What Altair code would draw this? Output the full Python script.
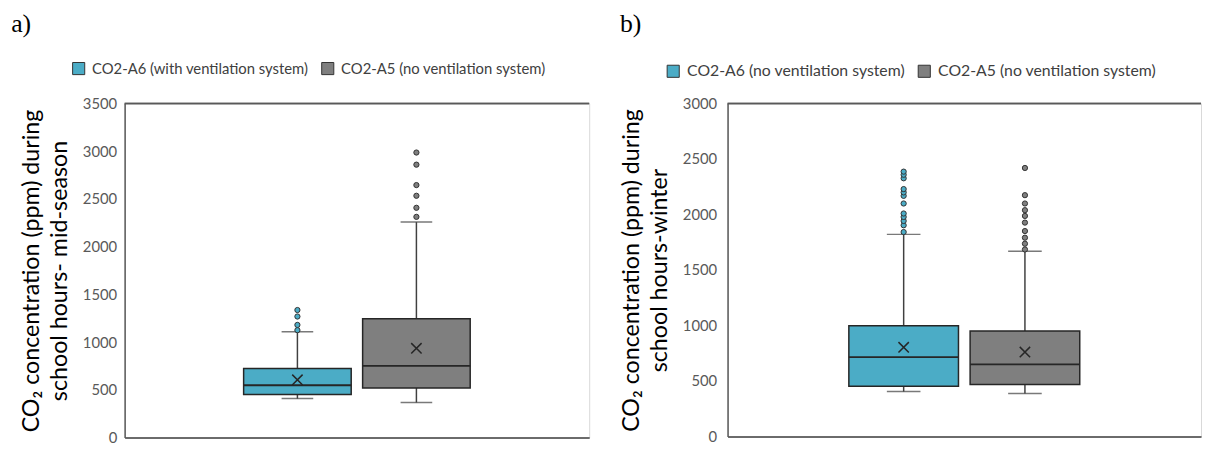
import altair as alt
import pandas as pd

# ---------------- data ----------------
a_series = ["CO2-A6 (with ventilation system)", "CO2-A5 (no ventilation system)"]
a_q1 = [452, 520]
a_median = [548, 752]
a_q3 = [724, 1244]
a_mean = [605, 935]
a_low = [408, 367]
a_high = [1109, 2257]
a_out_A6 = [1125, 1180, 1268, 1336]
a_out_A5 = [2312, 2407, 2533, 2645, 2859, 2986]

b_series = ["CO2-A6 (no ventilation system)", "CO2-A5 (no ventilation system) "]
b_q1 = [453, 468]
b_median = [716, 650]
b_q3 = [999, 951]
b_mean = [804, 761]
b_low = [405, 387]
b_high = [1821, 1670]
b_out_A6 = [1842, 1903, 1942, 1978, 2009, 2099, 2168, 2199, 2229, 2326, 2358, 2386]
b_out_A5 = [1685, 1737, 1791, 1851, 1927, 1987, 2039, 2099, 2174, 2419]

colors = ["#4BACC6", "#7F7F7F"]
FONT = "Lato"
X_PATH = "M-1,-1L1,1M-1,1L1,-1"


def panel(series, q1, med, q3, mean, low, high, outs, ymax, label, ytitle,
          width, height, legx, legy, toff, tdx, cap, legfs, lpad):
    box = pd.DataFrame({"series": series, "q1": q1, "median": med, "q3": q3,
                        "mean": mean, "low": low, "high": high})
    orows = []
    for s, vals in zip(series, outs):
        for v in vals:
            orows.append({"series": s, "value": v})
    out = pd.DataFrame(orows)

    xenc = alt.X("series:N", sort=series,
                 scale=alt.Scale(domain=series, paddingInner=0.096, paddingOuter=1.0),
                 axis=alt.Axis(labels=False, ticks=False, title=None,
                               domainColor="#404040", domainWidth=1.5))
    yaxis = alt.Axis(values=list(range(0, ymax + 1, 500)), title=ytitle, format="d",
                     ticks=False, grid=False, labelPadding=lpad,
                     labelFont=FONT, labelFontSize=15, labelColor="#595959",
                     domainColor="#595959", domainWidth=1.5,
                     titleFont=FONT, titleFontSize=23.5, titleFontWeight="normal",
                     titleColor="#000000", titleLineHeight=28, titlePadding=11)
    yscale = alt.Scale(domain=[0, ymax], nice=False)
    cenc = alt.Color("series:N", sort=series,
                     scale=alt.Scale(domain=series, range=colors),
                     legend=alt.Legend(title=None, orient="none", direction="horizontal",
                                       legendX=legx, legendY=legy,
                                       symbolType="square", symbolSize=150,
                                       symbolStrokeColor="#333333", symbolStrokeWidth=1,
                                       labelFont=FONT, labelFontSize=legfs,
                                       labelColor="#404040", labelOffset=6,
                                       columnPadding=10, labelLimit=400))

    base = alt.Chart(box)
    top_line = base.mark_rule(color="#595959", strokeWidth=1.5).encode(
        y=alt.datum(ymax, scale=yscale, axis=yaxis))
    wh_hi = base.mark_rule(color="#404040", strokeWidth=1.5).encode(
        x=xenc, y=alt.Y("q3:Q", scale=yscale, axis=yaxis), y2="high:Q")
    wh_lo = base.mark_rule(color="#404040", strokeWidth=1.5).encode(
        x=xenc, y=alt.Y("low:Q", scale=yscale, axis=yaxis), y2="q1:Q")
    caps_hi = base.mark_tick(color="#404040", thickness=1.5, size=cap).encode(
        x=xenc, y=alt.Y("high:Q", scale=yscale, axis=yaxis))
    caps_lo = base.mark_tick(color="#404040", thickness=1.5, size=cap).encode(
        x=xenc, y=alt.Y("low:Q", scale=yscale, axis=yaxis))
    boxes = base.mark_bar(stroke="#262626", strokeWidth=1.5, opacity=1).encode(
        x=xenc, y=alt.Y("q1:Q", scale=yscale, axis=yaxis), y2="q3:Q", color=cenc)
    medians = base.mark_bar(stroke="#262626", strokeWidth=1.8, fill="transparent").encode(
        x=xenc, y=alt.Y("median:Q", scale=yscale, axis=yaxis), y2="median:Q")
    means = base.mark_point(shape=X_PATH, size=110, filled=False,
                            stroke="#262626", strokeWidth=1.5, opacity=1).encode(
        x=xenc, y=alt.Y("mean:Q", scale=yscale, axis=yaxis))
    outliers = alt.Chart(out).mark_circle(size=28, stroke="#333333", strokeWidth=1,
                                          opacity=1).encode(
        x=xenc, y=alt.Y("value:Q", scale=yscale, axis=yaxis),
        color=alt.Color("series:N", sort=series,
                        scale=alt.Scale(domain=series, range=colors), legend=None))

    return alt.layer(top_line, wh_hi, wh_lo, caps_hi, caps_lo, boxes, medians,
                     means, outliers).properties(
        width=width, height=height,
        title=alt.Title(label, anchor="start", frame="bounds",
                        font="Liberation Serif", fontSize=26, fontWeight="normal",
                        color="#000000", offset=toff, dx=tdx))


pa = panel(a_series, a_q1, a_median, a_q3, a_mean, a_low, a_high,
           [a_out_A6, a_out_A5], 3500, "a)",
           ["CO₂ concentration (ppm) during", "school hours- mid-season"],
           470, 338, -54, -43, 24, -9, 32, 15, 8)
pb = panel(b_series, b_q1, b_median, b_q3, b_mean, b_low, b_high,
           [b_out_A6, b_out_A5], 3000, "b)",
           ["CO₂ concentration (ppm) during", "school hours-winter"],
           479, 337, -63, -41, 26, 0, 34, 16, 11)

chart = alt.hconcat(pa, pb, spacing=28).resolve_scale(
    color="independent", x="independent", y="independent"
).properties(
    padding={"left": 2, "top": 0, "right": 0, "bottom": 0}
).configure_view(stroke="#D9D9D9", strokeWidth=1)

chart.save("out.html", embed_options={"renderer": "svg", "actions": False})
